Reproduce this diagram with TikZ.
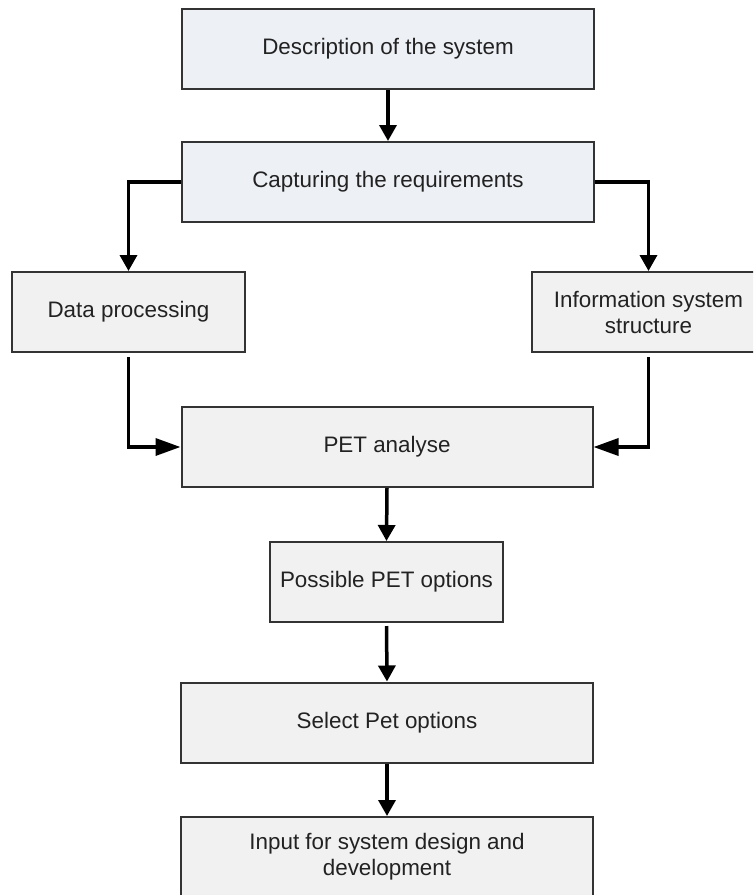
\documentclass[tikz,border=0pt]{standalone}
\usepackage{fontspec}
\setmainfont{Liberation Sans}
\usetikzlibrary{arrows.meta}
\definecolor{boxblue}{HTML}{EDF0F5}
\definecolor{boxgray}{HTML}{F1F1F1}
\definecolor{edgegray}{HTML}{333333}
\definecolor{textgray}{HTML}{222222}
\begin{document}
\begin{tikzpicture}[x=1pt,y=-1pt,
  box/.style={draw=edgegray, line width=2pt, rectangle, align=center,
    inner sep=0pt, text=textgray, font=\fontsize{22.4}{26}\selectfont},
  bluebox/.style={box, fill=boxblue, minimum height=80pt},
  graybox/.style={box, fill=boxgray, minimum height=80pt},
  flow/.style={line width=3.5pt, -{Triangle[length=16pt,width=17pt]}},
  side/.style={line width=3.5pt, -{Triangle[length=25pt,width=17pt]}}]
\clip (0,0) rectangle (753,895);
\fill[white] (0,0) rectangle (753,895);

% boxes
\node[bluebox, minimum width=412pt] (desc) at (388,49) {Description of the system};
\node[bluebox, minimum width=412pt] (req)  at (388,182) {Capturing the requirements};
\node[graybox, minimum width=233pt] (data) at (128.5,312) {Data processing};
\node[graybox, minimum width=233pt] (info) at (648.5,312) {Information system\\structure};
\node[graybox, minimum width=411pt] (pet)  at (387,447) {PET analyse};
\node[graybox, minimum width=233pt] (poss) at (386.5,582) {Possible PET options};
\node[graybox, minimum width=412pt] (sel)  at (387,722.5) {Select Pet options};
\node[graybox, minimum width=412pt] (inp)  at (387,857) {Input for system design and\\development};

% connectors
\draw[flow] (desc.south) -- (req.north);
\draw[flow] (req.west) -| (data.north);
\draw[flow] (req.east) -| (info.north);
\draw[side, shorten <=4pt] (data.south) |- (pet.west);
\draw[side, shorten <=4pt] (info.south) |- (pet.east);
\draw[flow] (pet.south) -- (poss.north);
\draw[flow, shorten <=3pt] (poss.south) -- (sel.north);
\draw[flow] (sel.south) -- (inp.north);
\end{tikzpicture}
\end{document}
